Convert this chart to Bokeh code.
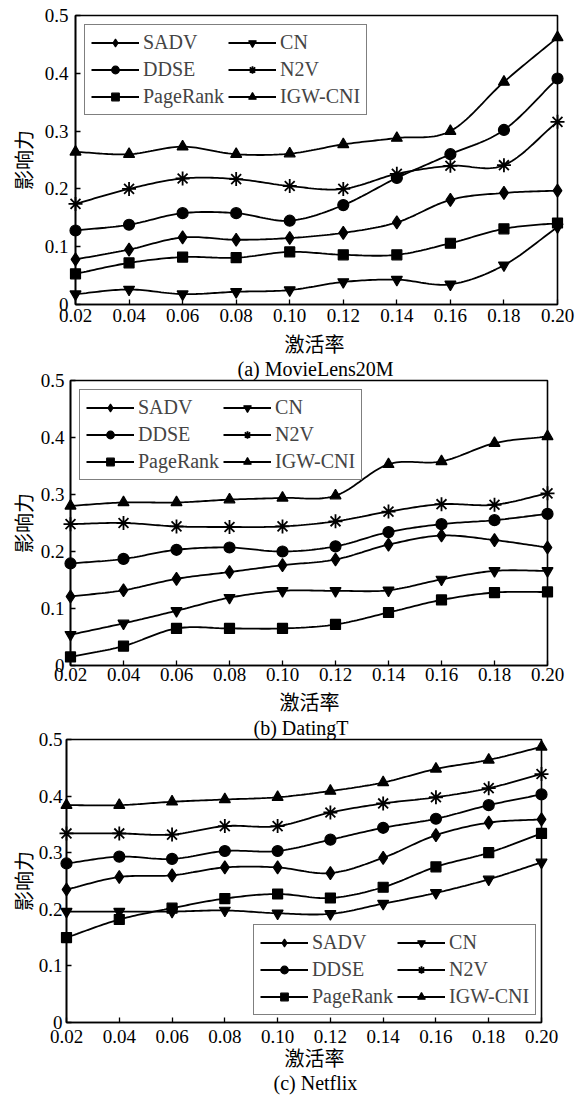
import numpy as np
from bokeh.plotting import figure
from bokeh.models import FixedTicker, Legend, LegendItem, Title, Range1d
from bokeh.embed import file_html
from bokeh.resources import INLINE

# ---------------- data ----------------
rates = [0.02, 0.04, 0.06, 0.08, 0.10, 0.12, 0.14, 0.16, 0.18, 0.20]
x_tick_labels = ["0.02", "0.04", "0.06", "0.08", "0.10", "0.12", "0.14", "0.16", "0.18", "0.20"]
y_ticks = [0, 0.1, 0.2, 0.3, 0.4, 0.5]
y_tick_labels = ["0", "0.1", "0.2", "0.3", "0.4", "0.5"]
methods = ["SADV", "DDSE", "PageRank", "CN", "N2V", "IGW-CNI"]
captions = ["(a) MovieLens20M", "(b) DatingT", "(c) Netflix"]
x_title = "激活率"
y_title = "影响力"

# (a) MovieLens20M
ml_sadv = [0.078, 0.095, 0.116, 0.112, 0.115, 0.124, 0.142, 0.181, 0.193, 0.197]
ml_ddse = [0.128, 0.138, 0.158, 0.158, 0.145, 0.172, 0.219, 0.260, 0.302, 0.391]
ml_pagerank = [0.053, 0.072, 0.082, 0.081, 0.091, 0.086, 0.086, 0.106, 0.131, 0.141]
ml_cn = [0.018, 0.026, 0.018, 0.022, 0.025, 0.039, 0.043, 0.035, 0.068, 0.134]
ml_n2v = [0.174, 0.200, 0.218, 0.217, 0.205, 0.200, 0.226, 0.240, 0.241, 0.316]
ml_igw = [0.264, 0.260, 0.273, 0.260, 0.261, 0.277, 0.288, 0.300, 0.385, 0.462]

# (b) DatingT
dt_sadv = [0.121, 0.132, 0.152, 0.164, 0.176, 0.186, 0.212, 0.228, 0.220, 0.207]
dt_ddse = [0.179, 0.187, 0.203, 0.207, 0.200, 0.209, 0.234, 0.248, 0.255, 0.266]
dt_pagerank = [0.015, 0.034, 0.065, 0.065, 0.065, 0.072, 0.093, 0.115, 0.128, 0.129]
dt_cn = [0.054, 0.074, 0.096, 0.119, 0.131, 0.131, 0.132, 0.151, 0.166, 0.166]
dt_n2v = [0.248, 0.250, 0.244, 0.243, 0.244, 0.253, 0.270, 0.283, 0.282, 0.302]
dt_igw = [0.280, 0.286, 0.286, 0.291, 0.294, 0.298, 0.353, 0.358, 0.390, 0.402]

# (c) Netflix
nf_sadv = [0.235, 0.257, 0.260, 0.274, 0.274, 0.264, 0.291, 0.331, 0.353, 0.359]
nf_ddse = [0.281, 0.293, 0.289, 0.303, 0.303, 0.323, 0.344, 0.360, 0.384, 0.403]
nf_pagerank = [0.150, 0.182, 0.202, 0.219, 0.227, 0.220, 0.239, 0.275, 0.300, 0.334]
nf_cn = [0.196, 0.196, 0.196, 0.198, 0.193, 0.192, 0.210, 0.229, 0.253, 0.283]
nf_n2v = [0.334, 0.334, 0.332, 0.347, 0.347, 0.371, 0.387, 0.398, 0.414, 0.439]
nf_igw = [0.384, 0.384, 0.390, 0.394, 0.398, 0.409, 0.424, 0.448, 0.464, 0.487]

panels_data = [
    [ml_sadv, ml_ddse, ml_pagerank, ml_cn, ml_n2v, ml_igw],
    [dt_sadv, dt_ddse, dt_pagerank, dt_cn, dt_n2v, dt_igw],
    [nf_sadv, nf_ddse, nf_pagerank, nf_cn, nf_n2v, nf_igw],
]

# ---------------- style / layout ----------------
MARKERS = ["diamond", "circle", "square", "inverted_triangle", "asterisk", "triangle"]
MSIZE = [13, 11, 10, 11, 14, 11]
SERIF = "Liberation Serif"
MIXED = "Liberation Serif, Noto Sans CJK SC"
FS = "19px"
FS_BIG = "20px"

# Each panel's x-axis title and caption are drawn as titles: the ones of
# panels (a) and (b) sit on top of the next figure, so nothing is clipped.
# Titles are (text, font, left offset from frame, standoff).
LAYOUT = [
    dict(width=578, height=331, left=75, right=21, top=15, bottom=27,
         xs=4, ys=7, yl=6, loc="top_left", lmargin=9,
         above=[], below=[]),
    dict(width=578, height=358, left=70, right=31, top=47, bottom=24,
         xs=2, ys=6, yl=2, loc="top_left", lmargin=9,
         above=[(captions[0], SERIF, 167, 1), (x_title, MIXED, 214, 0)],
         below=[]),
    dict(width=578, height=408, left=66, right=37, top=47, bottom=75,
         xs=7, ys=4, yl=0, loc=(187, 7), lmargin=0,
         above=[(captions[1], SERIF, 187, 1), (x_title, MIXED, 213, 1)],
         below=[(x_title, MIXED, 218, 0), (captions[2], SERIF, 207, 1)]),
]


def smooth(xs, ys, n=20):
    """Catmull-Rom curve through the data points (for drawing only)."""
    xs = np.asarray(xs, float)
    ys = np.asarray(ys, float)
    px = np.concatenate([[2 * xs[0] - xs[1]], xs, [2 * xs[-1] - xs[-2]]])
    py = np.concatenate([[2 * ys[0] - ys[1]], ys, [2 * ys[-1] - ys[-2]]])
    t = np.linspace(0, 1, n, endpoint=False)
    ox, oy = [], []
    for i in range(1, len(px) - 2):
        for arr, out in ((px, ox), (py, oy)):
            p0, p1, p2, p3 = arr[i - 1], arr[i], arr[i + 1], arr[i + 2]
            out.extend(0.5 * (2 * p1 + (-p0 + p2) * t + (2 * p0 - 5 * p1 + 4 * p2 - p3) * t ** 2
                              + (-p0 + 3 * p1 - 3 * p2 + p3) * t ** 3))
    ox.append(xs[-1])
    oy.append(ys[-1])
    return ox, oy


def make_title(text, font, offset, standoff):
    return Title(text=text, align="left", offset=offset, text_font=font,
                 text_font_size=FS_BIG, text_font_style="normal",
                 text_color="black", standoff=standoff)


def make_panel(k):
    L = LAYOUT[k]
    p = figure(width=L["width"], height=L["height"],
               x_range=Range1d(rates[0], rates[-1]), y_range=Range1d(0, 0.5),
               output_backend="svg", toolbar_location=None,
               min_border_left=L["left"], min_border_right=L["right"],
               min_border_top=L["top"], min_border_bottom=L["bottom"])
    p.grid.visible = False
    p.outline_line_color = "black"
    p.outline_line_width = 1.6
    p.background_fill_color = "white"
    p.border_fill_color = "white"

    for ax in (p.xaxis[0], p.yaxis[0]):
        ax.axis_line_width = 1.6
        ax.major_tick_in = 5
        ax.major_tick_out = 0
        ax.major_tick_line_width = 1.3
        ax.minor_tick_line_color = None
        ax.major_label_text_font = SERIF
        ax.major_label_text_font_size = FS
        ax.major_label_text_color = "black"

    xa = p.xaxis[0]
    xa.ticker = FixedTicker(ticks=rates)
    xa.major_label_overrides = {r: s for r, s in zip(rates, x_tick_labels)}
    xa.major_label_standoff = L["xs"]

    ya = p.yaxis[0]
    ya.ticker = FixedTicker(ticks=y_ticks)
    ya.major_label_overrides = {v: s for v, s in zip(y_ticks, y_tick_labels)}
    ya.major_label_standoff = L["ys"]
    ya.axis_label = y_title
    ya.axis_label_standoff = L["yl"]
    ya.axis_label_text_font = MIXED
    ya.axis_label_text_font_size = FS_BIG
    ya.axis_label_text_font_style = "normal"
    ya.axis_label_text_color = "black"

    items = []
    for j, name in enumerate(methods):
        ys = panels_data[k][j]
        sx, sy = smooth(rates, ys)
        ln = p.line(sx, sy, line_color="black", line_width=1.8)
        sc = p.scatter(rates, ys, marker=MARKERS[j], size=MSIZE[j],
                       fill_color="black", line_color="black",
                       line_width=1.8 if MARKERS[j] == "asterisk" else 1.2,
                       level="overlay")
        items.append(LegendItem(label=name, renderers=[ln, sc]))

    leg = Legend(items=items, location=L["loc"], nrows=3, orientation="vertical",
                 label_text_font=SERIF, label_text_font_size=FS_BIG,
                 border_line_color="black", border_line_width=1.6,
                 background_fill_color="white", background_fill_alpha=1,
                 padding=6, spacing=4, margin=L["lmargin"],
                 glyph_width=48, glyph_height=19, label_height=19,
                 label_standoff=4)
    p.add_layout(leg, "center")

    for spec in L["above"]:
        p.add_layout(make_title(*spec), "above")
    for spec in L["below"]:
        p.add_layout(make_title(*spec), "below")
    return p


panels = [make_panel(k) for k in range(3)]
open("out.html", "w").write(file_html(panels, INLINE))
